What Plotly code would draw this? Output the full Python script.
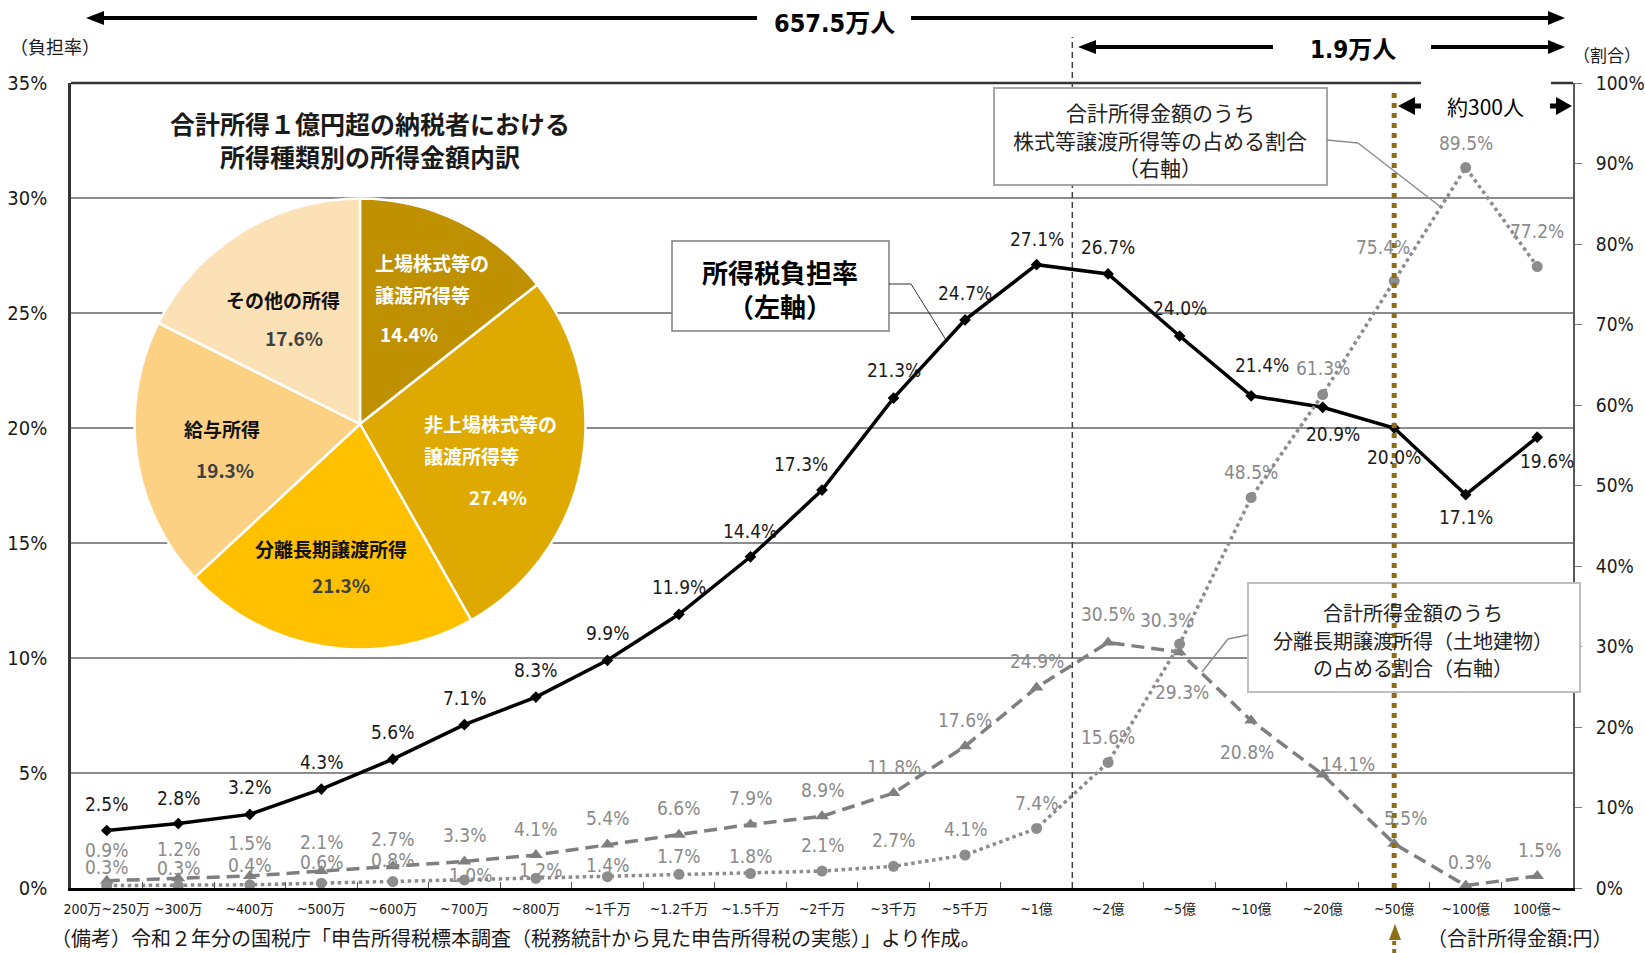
import plotly.graph_objects as go

# ---- data -------------------------------------------------------------
categories = ["200万~250万", "~300万", "~400万", "~500万", "~600万", "~700万",
              "~800万", "~1千万", "~1.2千万", "~1.5千万", "~2千万", "~3千万",
              "~5千万", "~1億", "~2億", "~5億", "~10億", "~20億", "~50億",
              "~100億", "100億~"]

# 所得税負担率 (left axis, %)
burden_rate = [2.5, 2.8, 3.2, 4.3, 5.6, 7.1, 8.3, 9.9, 11.9, 14.4, 17.3, 21.3,
               24.7, 27.1, 26.7, 24.0, 21.4, 20.9, 20.0, 17.1, 19.6]
# 株式等譲渡所得等の占める割合 (right axis, %)
stock_share = [0.3, 0.3, 0.4, 0.6, 0.8, 1.0, 1.2, 1.4, 1.7, 1.8, 2.1, 2.7,
               4.1, 7.4, 15.6, 30.3, 48.5, 61.3, 75.4, 89.5, 77.2]
# 分離長期譲渡所得（土地建物）の占める割合 (right axis, %)
land_share = [0.9, 1.2, 1.5, 2.1, 2.7, 3.3, 4.1, 5.4, 6.6, 7.9, 8.9, 11.8,
              17.6, 24.9, 30.5, 29.3, 20.8, 14.1, 5.5, 0.3, 1.5]

pie_labels = ["上場株式等の<br>譲渡所得等", "非上場株式等の<br>譲渡所得等",
              "分離長期譲渡所得", "給与所得", "その他の所得"]
pie_values = [14.4, 27.4, 21.3, 19.3, 17.6]

top_total = "657.5万人"
top_over_1oku = "1.9万人"
top_over_50oku = "約300人"

# ---- styling ----------------------------------------------------------
W, H = 1645, 953
L, R, T, B = 71, 1573, 83, 888          # plot area in pixels

NARROW = "Liberation Sans Narrow, Arial Narrow, DejaVu Sans Condensed, Noto Sans CJK JP, sans-serif"
JP = "Noto Sans CJK JP, sans-serif"
GOLD = "#8d6e17"
GRAY = "#7f7f7f"
LGRAY = "#8c8c8c"

pie_colors = ["#bf9000", "#dea900", "#ffc000", "#fcd184", "#fde1b6"]

# label offsets in pixels (dx, dy), dy positive = downwards
burden_off = [(0, -27), (0, -26), (0, -27), (0, -27), (0, -27), (0, -27), (0, -27),
              (0, -27), (0, -27), (0, -26), (-21, -26), (0, -28), (0, -27), (0, -26),
              (0, -27), (0, -28), (11, -31), (10, 27), (0, 29), (0, 22), (10, 24)]
land_off = [(0, -31), (0, -29), (0, -33), (0, -29), (0, -27), (0, -26), (0, -26),
            (0, -27), (0, -27), (0, -26), (0, -26), (0, -26), (0, -26), (0, -27),
            (0, -28), (2, 40), (-4, 31), (25, -11), (11, -26), (4, -24), (2, -26)]
stock_off = [(0, -19), (0, -18), (0, -20), (0, -21), (0, -22), (6, -5), (5, -8),
             (0, -12), (0, -18), (0, -18), (0, -26), (0, -26), (0, -26), (0, -25),
             (0, -25), (-13, -24), (0, -26), (0, -27), (-11, -34), (0, -25), (0, -36)]

# pie label placement: (x, y, xanchor) for name lines and for the value
pie_name_pos = [(373, 262, "left"), (422, 423, "left"), (331, 548, "center"),
                (182, 428, "left"), (283, 299, "center")]
pie_value_pos = [(378, 333, "left"), (467, 497, "left"), (341, 584, "center"),
                 (225, 470, "center"), (294, 337, "center")]
pie_name_color = ["white", "white", "#111111", "#111111", "#111111"]
pie_value_color = ["white", "white", "#404040", "#404040", "#404040"]


def px(X):
    return (X - L) / (R - L)


def py(Y):
    return (B - Y) / (B - T)


def pt(X, Y):
    return f"{px(X):.5f},{py(Y):.5f}"


fig = go.Figure()

# ---- pie: 所得種類別の所得金額内訳 ------------------------------------
cx, cy, rad = 360, 424, 225.5
fig.add_trace(go.Pie(
    values=pie_values, labels=pie_labels, sort=False, direction="clockwise",
    rotation=0, textinfo="none", showlegend=False, automargin=False,
    marker=dict(colors=pie_colors, line=dict(color="white", width=2.5)),
    domain=dict(x=[px(cx - rad), px(cx + rad)], y=[py(cy + rad), py(cy - rad)]),
))

# ---- line series ------------------------------------------------------
fig.add_trace(go.Scatter(
    x=categories, y=land_share, yaxis="y2", mode="lines+markers",
    line=dict(color=GRAY, width=3.5, dash="13px,7px"),
    marker=dict(symbol="triangle-up", size=12, color=GRAY),
    showlegend=False))
fig.add_trace(go.Scatter(
    x=categories, y=stock_share, yaxis="y2", mode="lines+markers",
    line=dict(color=LGRAY, width=3.5, dash="dot"),
    marker=dict(symbol="circle", size=11, color=LGRAY),
    showlegend=False))
fig.add_trace(go.Scatter(
    x=categories, y=burden_rate, yaxis="y", mode="lines+markers",
    line=dict(color="black", width=3.5),
    marker=dict(symbol="diamond", size=9, color="black"),
    showlegend=False))

annotations = []

# value labels
for series, off, yref, color in [(burden_rate, burden_off, "y", "#1a1a1a"),
                                 (land_share, land_off, "y2", "#8a8a8a"),
                                 (stock_share, stock_off, "y2", "#8a8a8a")]:
    for i, v in enumerate(series):
        dx, dy = off[i]
        annotations.append(dict(
            x=i, y=v, xref="x", yref=yref, text=f"{v:.1f}%", showarrow=False,
            xshift=dx, yshift=-dy, font=dict(family=NARROW, size=19, color=color)))

# pie labels
for k, (name, val) in enumerate(zip(pie_labels, pie_values)):
    nx, ny, nanchor = pie_name_pos[k]
    for j, line in enumerate(name.split("<br>")):
        annotations.append(dict(
            x=px(nx), y=py(ny + 32 * j), xref="paper", yref="paper", text=line,
            showarrow=False, xanchor=nanchor, yanchor="middle",
            font=dict(family=JP, size=19, color=pie_name_color[k], weight="bold")))
    vx, vy, vanchor = pie_value_pos[k]
    annotations.append(dict(
        x=px(vx), y=py(vy), xref="paper", yref="paper", text=f"{val:.1f}%",
        showarrow=False, xanchor=vanchor, yanchor="middle",
        font=dict(family=JP, size=19, color=pie_value_color[k], weight="bold")))


def text_at(X, Y, s, size, family=JP, color="#1a1a1a", bold=False, anchor="center"):
    annotations.append(dict(
        x=px(X), y=py(Y), xref="paper", yref="paper", text=s, showarrow=False,
        xanchor=anchor, yanchor="middle", align="center",
        font=dict(family=family, size=size, color=color,
                  weight="bold" if bold else "normal")))


# pie title
text_at(370, 140, "合計所得１億円超の納税者における<br>所得種類別の所得金額内訳", 25, bold=True)

# axis captions and notes
text_at(55, 47, "（負担率）", 18, family=NARROW)
text_at(1607, 56, "（割合）", 17, family=NARROW)
text_at(49, 937, "（備考）令和２年分の国税庁「申告所得税標本調査（税務統計から見た申告所得税の実態）」より作成。",
        20, anchor="left")
text_at(1425, 937, "（合計所得金額:円）", 20, anchor="left")

# headcount arrows
text_at(834, 23, top_total, 25, family=NARROW, color="black", bold=True)
text_at(1353, 50, top_over_1oku, 24, family=NARROW, color="black", bold=True)
text_at(1485, 106, top_over_50oku, 21, color="black")

# callout boxes
text_at(780, 288, "所得税負担率<br>（左軸）", 26, color="black", bold=True)
text_at(1160, 112, "合計所得金額のうち", 21, color="#222222")
text_at(1160, 140, "株式等譲渡所得等の占める割合", 21, color="#222222")
text_at(1160, 167, "（右軸）", 21, color="#222222")
text_at(1413, 612, "合計所得金額のうち", 20, color="#222222")
text_at(1413, 640, "分離長期譲渡所得（土地建物）", 20, color="#222222")
text_at(1413, 668, "の占める割合（右軸）", 20, color="#222222")

shapes = []


def seg(X0, Y0, X1, Y1, color="black", width=4, dash="solid"):
    shapes.append(dict(type="line", xref="paper", yref="paper",
                       x0=px(X0), y0=py(Y0), x1=px(X1), y1=py(Y1),
                       line=dict(color=color, width=width, dash=dash)))


def head(tipX, Y, direction, length, half, color="black"):
    bx = tipX + length if direction == "left" else tipX - length
    shapes.append(dict(type="path", xref="paper", yref="paper",
                       path=f"M{pt(tipX, Y)} L{pt(bx, Y - half)} L{pt(bx, Y + half)} Z",
                       fillcolor=color, line=dict(width=0)))


def box(X0, Y0, X1, Y1, border, width):
    shapes.append(dict(type="rect", xref="paper", yref="paper",
                       x0=px(X0), y0=py(Y1), x1=px(X1), y1=py(Y0),
                       fillcolor="white", line=dict(color=border, width=width)))


# top border of the plot, with a gap for the 約300人 caption
seg(L, T, R, T, color="#333333", width=2.5)
box(1421, 76, 1551, 90, "white", 0)

# 657.5万人 arrow
seg(100, 18, 757, 18)
head(86, 18, "left", 18, 7)
seg(911, 18, 1552, 18)
head(1565, 18, "right", 17, 7)
# 1.9万人 arrow
seg(1092, 47, 1273, 47)
head(1078, 47, "left", 18, 7)
seg(1431, 47, 1552, 47)
head(1565, 47, "right", 17, 7)
# 約300人 arrow
seg(1412, 106, 1421, 106, width=5)
head(1398, 106, "left", 17, 9)
seg(1550, 106, 1560, 106, width=5)
head(1572, 106, "right", 16, 9)

# 1億円 boundary
shapes.append(dict(type="line", xref="x", yref="paper", x0=13.5, x1=13.5,
                   y0=0, y1=py(37), line=dict(color="#404040", width=1.5, dash="6px,4px")))

# callout boxes and leader lines
box(672, 241, 889, 331, "#7f7f7f", 1.5)
seg(889, 284, 911, 284, color="#333333", width=1)
seg(911, 284, 946, 340, color="#333333", width=1)
box(994, 88, 1327, 185, "#a6a6a6", 2)
seg(1327, 140, 1358, 143, color=LGRAY, width=1.5)
seg(1358, 143, 1442, 208, color=LGRAY, width=1.5)
box(1248, 583, 1580, 692, "#bfbfbf", 2)
seg(1248, 635, 1228, 639, color=LGRAY, width=1.5)
seg(1228, 639, 1202, 672, color=LGRAY, width=1.5)

# ~50億 marker line
shapes.append(dict(type="line", xref="x", yref="paper", x0=18, x1=18,
                   y0=0, y1=py(92), line=dict(color=GOLD, width=5, dash="dot")))
shapes.append(dict(type="line", xref="x", yref="paper", x0=18, x1=18,
                   y0=py(941), y1=py(956), line=dict(color=GOLD, width=4, dash="dot")))
shapes.append(dict(type="path", xref="paper", yref="paper",
                   path=f"M{pt(1395, 924)} L{pt(1389, 940)} L{pt(1401, 940)} Z",
                   fillcolor=GOLD, line=dict(width=0)))

fig.update_layout(
    width=W, height=H,
    margin=dict(l=L, r=W - R, t=T, b=H - B, autoexpand=False),
    paper_bgcolor="white", plot_bgcolor="white",
    showlegend=False,
    xaxis=dict(type="category", range=[-0.5, 20.5], showline=True,
               linecolor="black", linewidth=2.5, ticks="inside",
               tickson="boundaries", ticklen=6, tickcolor="#555555",
               showgrid=False, ticklabelstandoff=6, tickangle=0,
               automargin=False,
               tickfont=dict(family=NARROW, size=14, color="#1a1a1a")),
    yaxis=dict(range=[0, 35], dtick=5, ticksuffix="%", showgrid=True,
               gridcolor="#8c8c8c", gridwidth=2, zeroline=False,
               showline=True, linecolor="#333333", linewidth=2.5,
               ticks="", ticklabelstandoff=17, automargin=False,
               tickfont=dict(family=NARROW, size=20, color="#1a1a1a")),
    yaxis2=dict(range=[0, 100], dtick=10, ticksuffix="%", overlaying="y",
                side="right", showgrid=False, zeroline=False,
                showline=True, linecolor="#595959", linewidth=2,
                ticks="outside", ticklen=7, tickcolor="#808080",
                ticklabelstandoff=10, automargin=False,
                tickfont=dict(family=NARROW, size=19, color="#1a1a1a")),
    annotations=annotations,
    shapes=shapes,
)

fig.write_html("out.html")
